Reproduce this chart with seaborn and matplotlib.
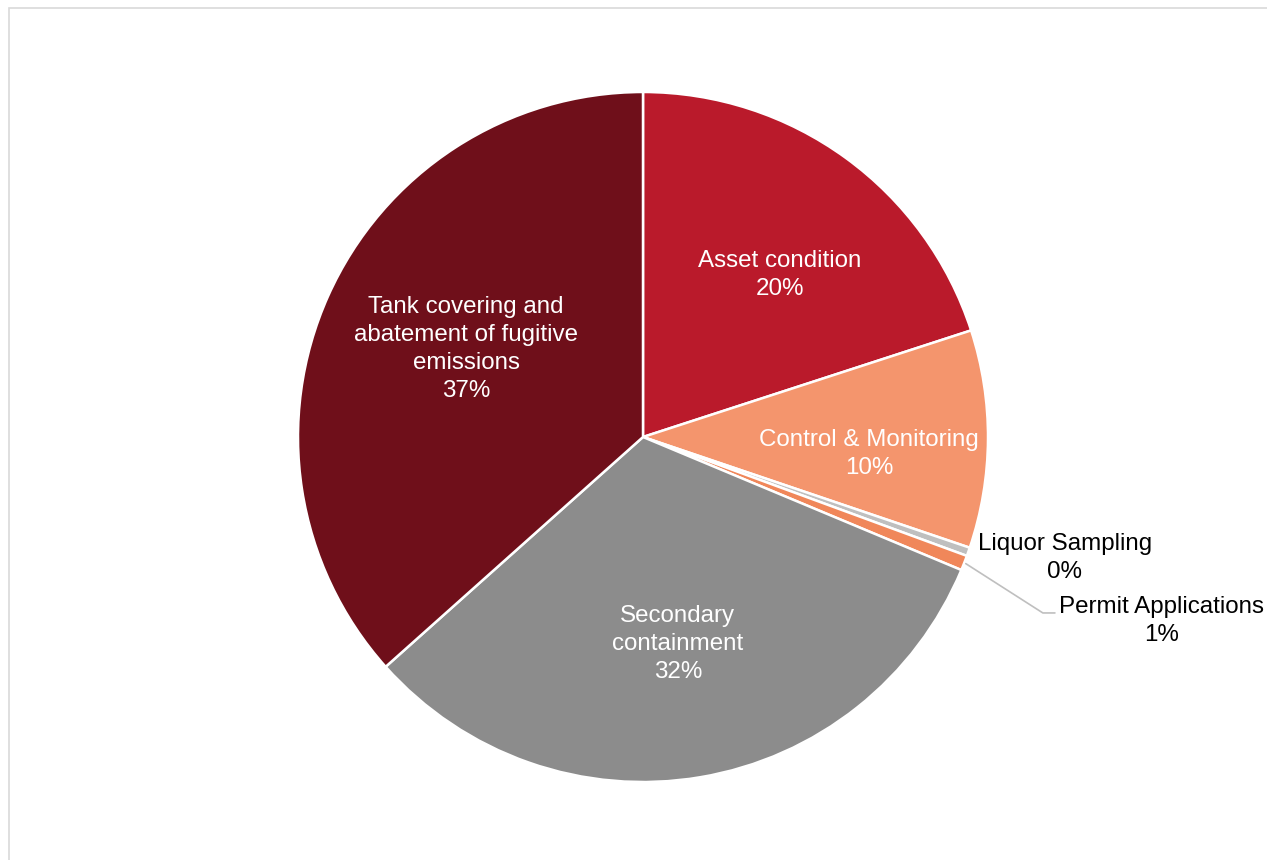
import matplotlib
matplotlib.use("Agg")
import matplotlib.pyplot as plt
import seaborn as sns
import numpy as np
from matplotlib.patches import Rectangle

# data (percent of total)
categories = ["Asset condition", "Control & Monitoring", "Liquor Sampling",
              "Permit Applications", "Secondary containment",
              "Tank covering and abatement of fugitive emissions"]
shares = [20.0, 10.2, 0.4, 0.7, 32.1, 36.6]
label_text = ["Asset condition", "Control & Monitoring", "Liquor Sampling",
              "Permit Applications", "Secondary\ncontainment",
              "Tank covering and\nabatement of fugitive\nemissions"]

sns.set_theme(style="white")
plt.rcParams['font.family'] = ['Liberation Sans', 'DejaVu Sans']

colors = sns.color_palette(["#BA1A2B", "#F4956D", "#BFBFBF", "#F0875A",
                            "#8C8C8C", "#6F0F1A"])

W, H = 1267, 860
fig = plt.figure(figsize=(W / 100, H / 100), dpi=100)

# light frame around the chart area (runs off the canvas right/bottom)
fig.patches.append(Rectangle((9 / W, -0.05), 1.1, 1 - 8 / H + 0.05,
                             transform=fig.transFigure, fill=False,
                             edgecolor="#D9D9D9", linewidth=1.2))

cx, cy, r = 643, 437, 345
ax = fig.add_axes([(cx - r) / W, (H - cy - r) / H, 2 * r / W, 2 * r / H])

wedges, _ = ax.pie(shares, colors=colors, startangle=90, counterclock=False,
                   radius=1.0,
                   wedgeprops=dict(edgecolor="white", linewidth=1.8))
ax.set_xlim(-1, 1)
ax.set_ylim(-1, 1)
ax.set_aspect("equal")
ax.axis("off")

# label placement (pie coordinates), white text inside, black outside
label_pos = [(0.397, 0.47), (0.655, -0.049), (1.223, -0.351),
             (1.504, -0.533), (0.101, -0.60), (-0.513, 0.255)]
inside = [True, True, False, False, True, True]

for txt, val, (lx, ly), inn in zip(label_text, shares, label_pos, inside):
    ax.text(lx, ly, f"{txt}\n{val:.0f}%", ha="center", va="center",
            fontsize=17.4, color="white" if inn else "black",
            linespacing=1.35, clip_on=False)

# leader line for the Permit Applications slice
w = wedges[3]
mid = np.deg2rad((w.theta1 + w.theta2) / 2)
sx, sy = np.cos(mid) * 1.005, np.sin(mid) * 1.005
ax.plot([sx, 1.159, 1.194], [sy, -0.510, -0.510], color="#BFBFBF",
        linewidth=1.2, clip_on=False)

fig.savefig("out.png", dpi=100)
